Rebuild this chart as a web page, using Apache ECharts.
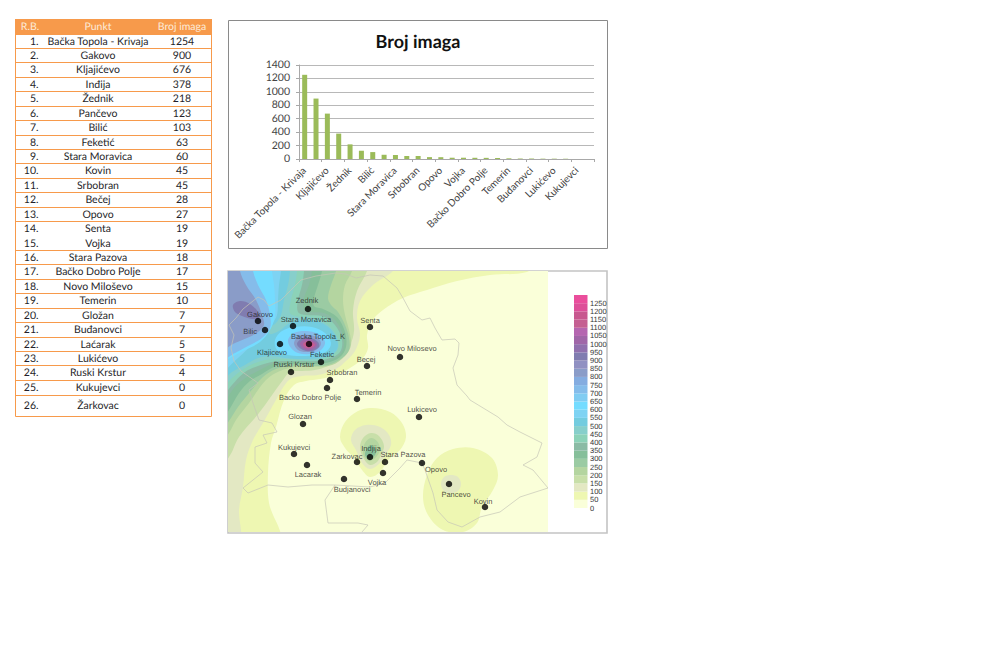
<!DOCTYPE html>
<html><head><meta charset="utf-8">
<style>html,body{margin:0;padding:0;background:#fff}#c{width:985px;height:672px}svg text{text-rendering:geometricPrecision}</style>
<script src="https://cdn.jsdelivr.net/npm/echarts@6/dist/echarts.min.js"></script>
</head><body><div id="c"></div>
<script>
// ---------- table and bar data ----------
const tableHeaders = ['R.B.', 'Punkt', 'Broj imaga'];
const places = ['Bačka Topola - Krivaja','Gakovo','Kljajićevo','Inđija','Žednik','Pančevo','Bilić','Feketić','Stara Moravica','Kovin','Srbobran','Bečej','Opovo','Senta','Vojka','Stara Pazova','Bačko Dobro Polje','Novo Miloševo','Temerin','Gložan','Buđanovci','Laćarak','Lukićevo','Ruski Krstur','Kukujevci','Žarkovac'];
const imageCounts = [1254,900,676,378,218,123,103,63,60,45,45,28,27,19,19,18,17,15,10,7,7,5,5,4,0,0];
const rowLines = [34,48,62,77,91,106,120,135,149,163,178,192,207,221,236,250,264,279,293,308,322,337,351,365,380,395,416];
const noRuleAfterRow = 14;
const chartTitle = 'Broj imaga';

// ---------- map stations (map coordinates) ----------
const stationNames = ['Gakovo','Bilic','Zednik','Stara Moravica','Senta','Backa Topola_K','Klajicevo','Feketic','Ruski Krstur','Novo Milosevo','Becej','Srbobran','Backo Dobro Polje','Temerin','Lukicevo','Glozan','Kukujevci','Lacarak','Zarkovac','Indjija','Stara Pazova','Vojka','Budjanovci','Opovo','Pancevo','Kovin'];
const stationX = [258,265,308,293,370,309,280,321,291,400,367,330,327,357,419,303,294,307,357,370,385,383,344,422,449,485];
const stationY = [321,330,309,326,327,344,344,362,372,357,366,380,388,399,417,424,454,465,462,457,462,473,479,463,484,507];
const labelX = [260,250,307,306,370,318,272,322,294,412,366,342,310,368,422,300,294,308,347,371,403,377,352,436,456,483];
const labelY = [314,331,300,319,320,336,352,354,364,348,359,372,397,392,409,416,447,474,456,448,454,482,489,469,494,501];

// ---------- legend ----------
const legendLevels = [0,50,100,150,200,250,300,350,400,450,500,550,600,650,700,750,800,850,900,950,1000,1050,1100,1150,1200,1250];
const legendColors = ['#FAFFD9','#EEF7B2','#E3E8C3','#C8DFA9','#B4D5A0','#9BCBA3','#86BF9A','#8BBBA5','#8CD2B8','#87CFCB','#73CCDF','#7ED3F3','#74DCFF','#80CCF2','#85BCEA','#84ACE0','#8A9CC8','#9090C2','#807CB0','#9070AE','#A066A8','#B566B0','#C55F92','#C8588F','#DD5099','#EA4E9C'];

// ---------- contour outlines (map coordinates) ----------
const ring0 = [[228,271],[548,271],[548,532],[228,532]];
const ring50West = [[535,262],[527,272],[490,275],[457,281],[427,290],[403,298],[383,310],[372,321],[367,335],[368,348],[363,358],[350,368],[336,375],[320,379],[306,381],[294,385],[284,400],[276,427],[271,443],[268,473],[269,503],[279,540],[210,540],[210,262]];
const ring50Indjija = [[340,437],[345,422],[358,411],[372,408],[390,412],[402,423],[406,437],[400,450],[388,460],[380,472],[370,477],[362,470],[354,458],[345,448]];
const ring50Pancevo = [[423,497],[427,475],[437,458],[453,449],[473,448],[492,458],[498,475],[493,490],[482,507],[477,523],[463,532],[443,530],[428,515]];
const ring100West = [[393,262],[393,271],[373,285],[360,301],[357,318],[360,335],[355,351],[346,361],[336,369],[318,375],[302,376],[289,380],[276,400],[263,423],[253,440],[246,460],[243,487],[239,510],[239,540],[210,540],[210,262]];
const ring100Indjija = [[351,440],[355,430],[366,425],[380,427],[389,435],[391,445],[385,455],[380,463],[370,469],[362,463],[356,450]];
const ring100Pancevo = [[441,484],[444,477],[451,475],[458,477],[461,484],[458,491],[451,493],[444,491]];
const ring150West = [[367,262],[367,271],[357,291],[353,311],[354,331],[350,345],[340,358],[328,366],[315,370],[302,371],[290,372],[283,380],[259,413],[239,437],[229,457],[215,470],[210,262]];
const ring150Indjija = [[360,448],[363,438],[371,433],[379,436],[384,446],[381,455],[377,462],[370,465],[364,459]];
const ring200West = [[352,262],[352,271],[345,285],[343,300],[345,315],[349,330],[351,345],[345,356],[332,365],[312,367],[296,367],[280,371],[266,380],[249,403],[236,420],[229,433],[215,450],[210,262]];
const ring200Indjija = [[363,452],[365,443],[371,438],[377,441],[380,449],[377,456],[370,461],[365,458]];
const ring250West = [[336,262],[336,271],[331,285],[328,298],[331,305],[338,312],[345,325],[349,338],[349,350],[342,358],[328,365],[308,366],[290,366],[276,369],[263,377],[250,392],[238,407],[229,421],[215,440],[210,262]];
const ring300West = [[322,262],[322,271],[318,285],[314,298],[314,306],[323,309],[337,317],[345,332],[346,347],[340,357],[326,363],[306,364],[288,364],[274,367],[262,374],[250,381],[239,393],[229,410],[215,430],[210,262]];
const ring300Indjija = [[365,455],[367,448],[371,445],[375,448],[376,453],[372,458],[368,458]];
const ring350West = [[312,262],[312,271],[309,285],[304,298],[304,309],[312,312],[324,313],[336,321],[343,336],[343,350],[335,358],[320,362],[302,362],[286,362],[272,364],[260,370],[247,377],[234,388],[215,415],[210,262]];
const ring400West = [[304,262],[304,271],[302,285],[298,300],[298,312],[306,315],[322,316],[335,325],[342,340],[340,352],[330,358],[316,361],[300,361],[285,361],[272,362],[258,366],[245,372],[232,385],[215,405],[210,262]];
const ring450West = [[297,262],[297,271],[295,285],[291,300],[290,313],[300,317],[315,318],[328,325],[337,337],[338,349],[330,356],[316,360],[300,360],[285,359],[272,359],[258,362],[245,368],[232,378],[215,395],[210,262]];
const ring500West = [[290,262],[290,271],[288,285],[284,300],[281,315],[275,324],[269,327],[270,334],[279,331],[290,323],[305,320],[322,323],[333,332],[338,345],[333,354],[320,358],[302,359],[285,358],[272,356],[258,358],[245,365],[232,372],[215,385],[210,262]];
const ring550West = [[281,262],[281,271],[279,285],[278,300],[277,315],[272,324],[264,335],[252,345],[238,358],[215,375],[210,262]];
const ring600West = [[272,262],[272,271],[274,285],[275,300],[275,316],[270,330],[260,342],[245,350],[230,358],[215,366],[210,262]];
const ring600Centre = [[275,340],[282,331],[295,327],[312,327],[325,333],[331,343],[327,351],[316,355],[302,356],[288,355],[277,350]];
const ring700West = [[253,262],[253,271],[258,285],[266,300],[270,315],[270,328],[262,338],[248,346],[235,353],[215,362],[210,262]];
const ring700Centre = [[288,340],[294,333],[306,331],[318,334],[325,342],[321,350],[310,354],[298,353],[291,348]];
const ring800West = [[240,262],[240,271],[246,285],[256,300],[262,315],[264,325],[258,332],[247,338],[235,343],[215,352],[210,262]];
const ring800Centre = [[294,343],[299,336],[309,335],[318,338],[321,344],[316,350],[306,352],[298,350]];
const ring900West = [[233,305],[240,301],[250,304],[258,312],[259,318],[252,319],[242,316],[235,312]];
const ring900Centre = [[297,344],[303,338],[311,338],[318,342],[319,347],[312,351],[303,350]];
const ring1000Centre = [[300,344],[305,339],[312,340],[317,344],[314,349],[306,350]];
const ring1100Centre = [[303,344],[307,341],[312,342],[315,345],[311,348],[306,348]];
const ring1200Centre = [[305,345],[309,342],[313,345],[310,347]];

const contourLevels = [0,50,50,50,100,100,100,150,150,200,200,250,300,300,350,400,450,500,550,600,600,700,700,800,800,900,900,1000,1100,1200];
const contourRings = [ring0,ring50West,ring50Indjija,ring50Pancevo,ring100West,ring100Indjija,ring100Pancevo,ring150West,ring150Indjija,ring200West,ring200Indjija,ring250West,ring300West,ring300Indjija,ring350West,ring400West,ring450West,ring500West,ring550West,ring600West,ring600Centre,ring700West,ring700Centre,ring800West,ring800Centre,ring900West,ring900Centre,ring1000Centre,ring1100Centre,ring1200Centre];

// ---------- border lines (map coordinates) ----------
const borderMain = [[229,325],[236,318],[243,309],[258,297],[264,300],[269,306],[281,300],[291,290],[301,280],[316,276],[336,273],[346,274],[356,278],[370,275],[383,276],[397,288],[403,298],[410,311],[422,320],[430,318],[435,328],[442,340],[455,339],[459,343],[458,355],[453,368],[457,385],[467,396],[470,400],[498,417],[507,425],[520,432],[542,443],[537,457],[523,465],[533,470],[548,488],[520,497],[500,512],[480,517],[462,527],[448,522],[437,510],[433,493],[425,470],[422,463],[407,460],[400,468],[385,483],[370,487],[335,485],[312,485],[288,487],[268,485],[248,493],[243,488],[253,480],[263,472],[255,463],[255,447],[267,443],[263,435],[277,432],[272,423],[259,420],[253,403],[249,390],[258,383],[241,371],[234,361],[231,348],[234,335],[229,325]];
const borderSouth = [[335,485],[325,500],[328,523],[358,523],[368,525],[362,532]];
const borderLines = [borderMain, borderSouth];

// ---------- table graphics ----------
const FONT = 'Lato';
const tableLeft = 15.5, tableRight = 211.5, colRb = 38.5, colName = 98, colVal = 182;
const g = [];
g.push({type:'rect',shape:{x:tableLeft,y:19,width:tableRight-tableLeft,height:15},style:{fill:'#F79A4B'},silent:true});
[[colRb-8.5,tableHeaders[0]],[colName,tableHeaders[1]],[colVal,tableHeaders[2]]].forEach(function(h){
  g.push({type:'text',x:h[0],y:26.5,style:{text:h[1],fill:'#fdebd9',font:'10.5px '+FONT,align:'center',verticalAlign:'middle'},silent:true});
});
rowLines.forEach(function(y,i){
  if (i === noRuleAfterRow) return;
  g.push({type:'line',shape:{x1:tableLeft,y1:y+0.5,x2:tableRight,y2:y+0.5},style:{stroke:'#F79A4B',lineWidth:1},silent:true});
});
[tableLeft,tableRight].forEach(function(x){
  g.push({type:'line',shape:{x1:x,y1:19,x2:x,y2:rowLines[rowLines.length-1]+0.5},style:{stroke:'#F79A4B',lineWidth:1},silent:true});
});
places.forEach(function(p,i){
  const cy = (rowLines[i]+rowLines[i+1])/2+0.5;
  const st = function(t,al){return {text:t,fill:'#1f1f2a',font:'10.5px '+FONT,align:al,verticalAlign:'middle'};};
  g.push({type:'text',x:colRb,y:cy,style:st((i+1)+'.','right'),silent:true});
  g.push({type:'text',x:colName,y:cy,style:st(p,'center'),silent:true});
  g.push({type:'text',x:colVal,y:cy,style:st(String(imageCounts[i]),'center'),silent:true});
});
// chart frames
g.push({type:'rect',shape:{x:228.5,y:20.5,width:379,height:228},style:{fill:'none',stroke:'#8a8a8a',lineWidth:1},silent:true});
g.push({type:'rect',shape:{x:228,y:271,width:379,height:262},style:{fill:'none',stroke:'#c4c4c4',lineWidth:1.6},silent:true});

const plainNumber = function(v){return String(v);};
const chart = echarts.init(document.getElementById('c'), null, {renderer:'svg', width:985, height:672});
chart.setOption({
  animation:false,
  backgroundColor:'#fff',
  textStyle:{fontFamily:FONT},
  graphic:{elements:g},
  title:{text:chartTitle,left:413,top:27,textAlign:'center',textStyle:{fontFamily:FONT,fontSize:18,fontWeight:'bold',color:'#111'}},
  grid:[
    {left:299,top:65,width:295,height:94},
    {left:228,top:271,width:320,height:261},
    {left:574,top:295,width:13.5,height:213}
  ],
  xAxis:[
    {gridIndex:0,type:'category',data:places,
      axisLine:{lineStyle:{color:'#a8a8a8'}},axisTick:{show:true,length:3,lineStyle:{color:'#a8a8a8'}},
      axisLabel:{interval:1,rotate:45,fontFamily:FONT,fontSize:10,color:'#444',margin:10}},
    {gridIndex:1,type:'value',min:228,max:548,show:false},
    {gridIndex:2,type:'value',min:0,max:1,show:false}
  ],
  yAxis:[
    {gridIndex:0,type:'value',min:0,max:1400,interval:200,
      axisLine:{show:true,lineStyle:{color:'#a8a8a8'}},axisTick:{show:true,length:3,lineStyle:{color:'#a8a8a8'}},
      splitLine:{lineStyle:{color:'#b8b8b8'}},
      axisLabel:{fontFamily:FONT,fontSize:10.5,color:'#444',margin:9,formatter:plainNumber}},
    {gridIndex:1,type:'value',min:271,max:532,inverse:true,show:false},
    {gridIndex:2,type:'value',min:0,max:1300,interval:50,position:'right',
      axisLine:{show:false},axisTick:{show:false},splitLine:{show:false},
      axisLabel:{fontFamily:'Liberation Sans',fontSize:7.5,color:'#333',margin:2.5,showMaxLabel:false,formatter:plainNumber}}
  ],
  series:[
    {type:'bar',xAxisIndex:0,yAxisIndex:0,data:imageCounts,barWidth:5,itemStyle:{color:'#9BBB59'}},
    {type:'custom',xAxisIndex:1,yAxisIndex:1,clip:true,silent:true,z:2,
      data:contourLevels.map(function(l,i){return [i,l];}),
      encode:{x:[],y:[]},
      renderItem:function(params,api){
        const i = api.value(0);
        const pts = contourRings[i].map(function(p){return api.coord(p);});
        const col = legendColors[legendLevels.indexOf(api.value(1))];
        return {type:'polygon',shape:{points:pts,smooth:i===0?0:0.35},style:{fill:col,stroke:null}};
      }},
    {type:'custom',xAxisIndex:1,yAxisIndex:1,clip:true,silent:true,z:3,
      data:borderLines.map(function(l,i){return [i];}),
      encode:{x:[],y:[]},
      renderItem:function(params,api){
        const pts = borderLines[api.value(0)].map(function(p){return api.coord(p);});
        return {type:'polyline',shape:{points:pts},style:{fill:null,stroke:'#c6c6b8',lineWidth:0.7}};
      }},
    {type:'scatter',xAxisIndex:1,yAxisIndex:1,z:5,symbolSize:6.5,silent:true,
      itemStyle:{color:'#000'},
      data:stationNames.map(function(n,i){
        return {name:n,value:[stationX[i],stationY[i]],
          label:{show:true,position:'inside',formatter:n,fontFamily:'Liberation Sans',fontSize:7.5,color:'#222',
            offset:[labelX[i]-stationX[i],labelY[i]-stationY[i]]}};
      })},
    {type:'custom',xAxisIndex:2,yAxisIndex:2,silent:true,z:2,
      data:legendLevels.map(function(l,i){return [i,l];}),
      encode:{x:[],y:1},
      renderItem:function(params,api){
        const l = api.value(1);
        const a = api.coord([0,l]), b = api.coord([1,l+50]);
        return {type:'rect',shape:{x:a[0],y:b[1],width:b[0]-a[0],height:a[1]-b[1]},
          style:{fill:legendColors[api.value(0)],stroke:null}};
      }}
  ]
});
</script></body></html>
